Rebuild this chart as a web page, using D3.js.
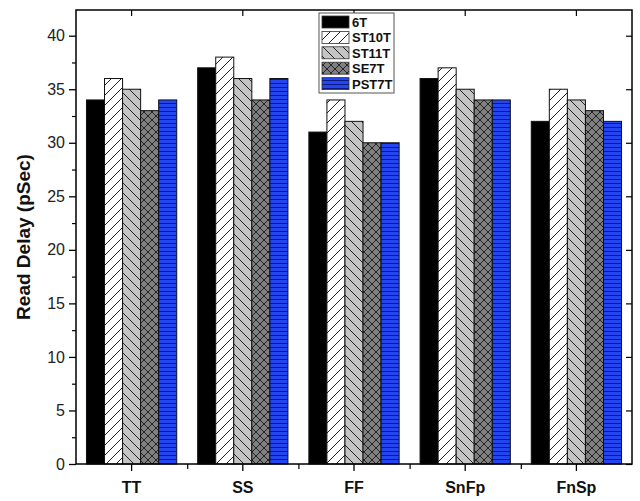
<!DOCTYPE html>
<html>
<head>
<meta charset="utf-8">
<script src="https://cdn.jsdelivr.net/npm/d3@7"></script>
<style>
  body { margin: 0; background: #fff; }
  text { font-family: "Liberation Sans", Arial, sans-serif; }
</style>
</head>
<body>
<div id="chart"></div>
<script>
const categories = ["TT", "SS", "FF", "SnFp", "FnSp"];
const seriesNames = ["6T", "ST10T", "ST11T", "SE7T", "PST7T"];
const v6T    = [34, 37, 31, 36, 32];
const vST10T = [36, 38, 34, 37, 35];
const vST11T = [35, 36, 32, 35, 34];
const vSE7T  = [33, 34, 30, 34, 33];
const vPST7T = [34, 36, 30, 34, 32];
const seriesValues = [v6T, vST10T, vST11T, vSE7T, vPST7T];
const yTicks = [0, 5, 10, 15, 20, 25, 30, 35, 40];

const width = 640, height = 501;
const margin = { top: 10, right: 8, bottom: 37, left: 76 };

let svg = d3.select("#chart").append("svg")
  .attr("width", width)
  .attr("height", height);

// patterns
let defs = svg.append("defs");
let p1 = defs.append("pattern").attr("id", "pat-st10t")
  .attr("patternUnits", "userSpaceOnUse").attr("width", 10).attr("height", 10);
p1.append("rect").attr("width", 10).attr("height", 10).attr("fill", "#fff");
p1.append("path").attr("d", "M-2,12 L12,-2 M-7,7 L7,-7 M3,17 L17,3")
  .attr("stroke", "#222").attr("stroke-width", 1);

let p2 = defs.append("pattern").attr("id", "pat-st11t")
  .attr("patternUnits", "userSpaceOnUse").attr("width", 10).attr("height", 10);
p2.append("rect").attr("width", 10).attr("height", 10).attr("fill", "#c4c4c4");
p2.append("path").attr("d", "M-2,-2 L12,12 M-7,3 L7,17 M3,-7 L17,7")
  .attr("stroke", "#222").attr("stroke-width", 1);

let p3 = defs.append("pattern").attr("id", "pat-se7t")
  .attr("patternUnits", "userSpaceOnUse").attr("width", 8).attr("height", 8);
p3.append("rect").attr("width", 8).attr("height", 8).attr("fill", "#808080");
p3.append("path").attr("d", "M0,0 L8,8 M8,0 L0,8")
  .attr("stroke", "#1a1a1a").attr("stroke-width", 0.9);

let p4 = defs.append("pattern").attr("id", "pat-pst7t")
  .attr("patternUnits", "userSpaceOnUse").attr("width", 8).attr("height", 4);
p4.append("rect").attr("width", 8).attr("height", 4).attr("fill", "#2446f0");
p4.append("line").attr("x1", 0).attr("x2", 8).attr("y1", 3.5).attr("y2", 3.5)
  .attr("stroke", "#0a1a80").attr("stroke-width", 1);

const fills = ["#000", "url(#pat-st10t)", "url(#pat-st11t)", "url(#pat-se7t)", "url(#pat-pst7t)"];

let x0 = d3.scaleBand().domain(categories)
  .range([margin.left, width - margin.right]).padding(0);
let x1 = d3.scaleBand().domain(seriesNames)
  .range([0, x0.bandwidth()]).paddingOuter(0.58).paddingInner(0);
let y = d3.scaleLinear().domain([0, 42.4])
  .range([height - margin.bottom, margin.top]);

let g = svg.append("g");

// bars
categories.forEach(function(cat, ci) {
  seriesNames.forEach(function(s, si) {
    let val = seriesValues[si][ci];
    g.append("rect")
      .attr("x", x0(cat) + x1(s))
      .attr("y", y(val))
      .attr("width", x1.bandwidth())
      .attr("height", y(0) - y(val))
      .attr("fill", fills[si])
      .attr("stroke", "#111")
      .attr("stroke-width", 1);
  });
});

// frame
svg.append("rect")
  .attr("x", margin.left).attr("y", margin.top)
  .attr("width", width - margin.left - margin.right)
  .attr("height", height - margin.top - margin.bottom)
  .attr("fill", "none").attr("stroke", "#000").attr("stroke-width", 1.5);

// left axis
let yAxis = svg.append("g")
  .attr("transform", "translate(" + margin.left + ",0)")
  .call(d3.axisLeft(y).tickValues(yTicks).tickSize(7).tickPadding(4));
yAxis.select(".domain").remove();
yAxis.selectAll("line").attr("stroke-width", 1.3);
yAxis.selectAll("text").style("font-size", "16px").attr("fill", "#222");
svg.append("g")
  .attr("transform", "translate(" + margin.left + ",0)")
  .call(d3.axisLeft(y).tickValues(d3.range(2.5, 42, 5)).tickSize(4).tickFormat(""))
  .call(a => a.select(".domain").remove())
  .selectAll("line").attr("stroke-width", 1.2);

// right axis ticks (inward)
svg.append("g")
  .attr("transform", "translate(" + (width - margin.right) + ",0)")
  .call(d3.axisLeft(y).tickValues(yTicks).tickSize(6).tickFormat(""))
  .call(a => a.select(".domain").remove())
  .selectAll("line").attr("stroke-width", 1.2);

// bottom axis
let xAxis = svg.append("g")
  .attr("transform", "translate(0," + (height - margin.bottom) + ")")
  .call(d3.axisBottom(x0).tickSize(7).tickPadding(11));
xAxis.select(".domain").remove();
xAxis.selectAll("line").attr("stroke-width", 1.3);
xAxis.selectAll("text").style("font-size", "16px").style("font-weight", "bold").attr("fill", "#111");
svg.append("g")
  .attr("transform", "translate(0," + (height - margin.bottom) + ")")
  .call(d3.axisBottom(d3.scaleLinear().domain([0, 5]).range([margin.left, width - margin.right]))
    .tickValues([1, 2, 3, 4]).tickSize(5).tickFormat(""))
  .call(a => a.select(".domain").remove())
  .selectAll("line").attr("stroke-width", 1.2);

// top axis ticks (inward)
svg.append("g")
  .attr("transform", "translate(0," + margin.top + ")")
  .call(d3.axisBottom(x0).tickSize(6).tickFormat(""))
  .call(a => a.select(".domain").remove())
  .selectAll("line").attr("stroke-width", 1.2);

// y label
svg.append("text")
  .attr("transform", "translate(30," + ((margin.top + height - margin.bottom) / 2) + ") rotate(-90)")
  .attr("text-anchor", "middle")
  .style("font-size", "19px").style("font-weight", "bold")
  .attr("fill", "#111")
  .text("Read Delay (pSec)");

// legend
let lg = svg.append("g").attr("transform", "translate(319,13)");
lg.append("rect").attr("width", 75).attr("height", 80)
  .attr("fill", "#fff").attr("stroke", "#555").attr("stroke-width", 1);
seriesNames.forEach(function(s, i) {
  lg.append("rect")
    .attr("x", 3).attr("y", 3 + i * 15.4)
    .attr("width", 27).attr("height", 12)
    .attr("fill", fills[i]).attr("stroke", "#333").attr("stroke-width", 0.8);
  lg.append("text")
    .attr("x", 33).attr("y", 14 + i * 15.4)
    .style("font-size", "13px").style("font-weight", "bold")
    .attr("fill", "#111")
    .text(s);
});
</script>
</body>
</html>
